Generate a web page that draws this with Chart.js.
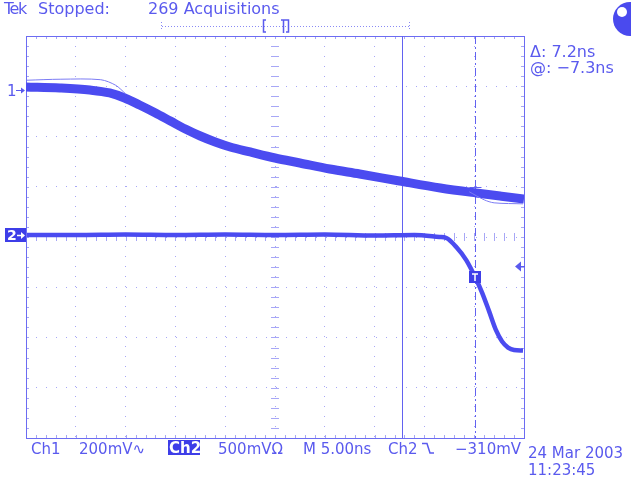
<!DOCTYPE html>
<html>
<head>
<meta charset="utf-8">
<script src="https://cdn.jsdelivr.net/npm/chart.js@4/dist/chart.umd.min.js"></script>
<style>
html, body { margin: 0; padding: 0; background: #fff; }
#wrap { width: 631px; height: 477px; }
</style>
</head>
<body>
<div id="wrap"><canvas id="scope"></canvas></div>
<script>
// time axis in ns (5 ns/div, 10 div), vertical in divisions (8 div)
const ch1Time  = [-25.0, -21.6, -18.6, -16.6, -15.1, -13.6, -12.0, -10.5, -9.0, -7.5, -6.0, -4.5, -2.5, 0.0, 2.5, 5.5, 8.5, 12.5, 16.6, 20.2, 22.6, 25.0];
const ch1Level = [2.985, 2.965, 2.925, 2.866, 2.766, 2.627, 2.468, 2.308, 2.149, 2.010, 1.891, 1.791, 1.692, 1.572, 1.473, 1.353, 1.254, 1.114, 0.975, 0.876, 0.816, 0.756];

// single stray acquisitions of ch1 that sit outside the main band
const ghostTime  = [-24.9, -21.5, -17.5, -16.0, -15.0, null, 19.5, 21.0, 22.0, 24.9];
const ghostLevel = [3.12, 3.14, 3.13, 3.02, 2.85, null, 0.90, 0.74, 0.68, 0.66];

const ch2Time  = [-24.9, -20, -15, -10, -5, 0, 5, 10, 14, 16.5, 17.2, 18.2, 19.2, 20.1, 20.8, 21.5, 22.2, 22.8, 23.4, 24.0, 24.9];
const ch2Level = [0.04, 0.04, 0.05, 0.04, 0.05, 0.04, 0.05, 0.03, 0.04, 0.00, -0.02, -0.20, -0.46, -0.80, -1.11, -1.48, -1.86, -2.08, -2.20, -2.25, -2.26];

const ch1Marker = 2.93;
const ch2Marker = 0.04;
const trigLevel = -0.58;
const cursorA = 12.8;
const cursorB = 20.1;
const cursorCrossLevel = 1.0;
const trigPoint = { x: 20.1, y: -0.80 };

const headerTexts = ['Stopped:', '269 Acquisitions'];
const cursorTexts = ['\u0394: 7.2ns', '@: \u22127.3ns'];
const footTexts = ['Ch1', '200mV\u223F', 'Ch2', '500mV\u03A9', 'M 5.00ns', 'Ch2', '\u2212310mV'];
const dateTexts = ['24 Mar 2003', '11:23:45'];

const ink = '#5a5aee';
const trace = '#4b4bf0';
const grid = '#a7a7f6';

function pts(xs, ys) {
  return xs.map((x, i) => (x === null ? { x: NaN, y: null } : { x: x, y: ys[i] }));
}

const scopeDecor = {
  id: 'scopeDecor',
  beforeDatasetsDraw(chart) {
    const ctx = chart.ctx;
    const a = chart.chartArea;
    const sx = chart.scales.x, sy = chart.scales.y;
    const cx = sx.getPixelForValue(0), cy = sy.getPixelForValue(0);
    ctx.save();
    ctx.strokeStyle = grid;
    ctx.lineWidth = 1;
    // minor ticks on the centre cross and the frame
    ctx.beginPath();
    for (let v = -4; v <= 4.001; v += 0.2) {
      const y = Math.round(sy.getPixelForValue(v)) + 0.5;
      ctx.moveTo(cx - 4, y); ctx.lineTo(cx + 4, y);
      ctx.moveTo(a.left, y); ctx.lineTo(a.left + 3, y);
      ctx.moveTo(a.right - 3, y); ctx.lineTo(a.right, y);
    }
    for (let t = -25; t <= 25.001; t += 1) {
      const x = Math.round(sx.getPixelForValue(t)) + 0.5;
      ctx.moveTo(x, cy - 4); ctx.lineTo(x, cy + 4);
      ctx.moveTo(x, a.top); ctx.lineTo(x, a.top + 3);
      ctx.moveTo(x, a.bottom - 3); ctx.lineTo(x, a.bottom);
    }
    ctx.stroke();
    // frame
    ctx.strokeStyle = '#6c6cf2';
    ctx.strokeRect(Math.round(a.left) + 0.5, Math.round(a.top) + 0.5, Math.round(a.right - a.left), Math.round(a.bottom - a.top));
    // cursors
    const xa = Math.round(sx.getPixelForValue(cursorA)) + 0.5;
    ctx.strokeStyle = '#6262f0';
    ctx.beginPath(); ctx.moveTo(xa, a.top); ctx.lineTo(xa, a.bottom); ctx.stroke();
    const xb = Math.round(sx.getPixelForValue(cursorB)) + 0.5;
    ctx.setLineDash([8, 3, 2, 3]);
    ctx.beginPath(); ctx.moveTo(xb, a.top); ctx.lineTo(xb, a.bottom); ctx.stroke();
    ctx.setLineDash([]);
    const yc = Math.round(sy.getPixelForValue(cursorCrossLevel)) + 0.5;
    ctx.beginPath();
    ctx.moveTo(xb - 6, yc); ctx.lineTo(xb + 6, yc);
    ctx.moveTo(xb, yc - 6); ctx.lineTo(xb, yc + 6);
    ctx.stroke();
    ctx.restore();
  },
  afterDraw(chart) {
    const ctx = chart.ctx;
    const a = chart.chartArea;
    const sx = chart.scales.x, sy = chart.scales.y;
    ctx.save();
    ctx.fillStyle = ink;
    ctx.strokeStyle = ink;
    ctx.textBaseline = 'alphabetic';
    // header
    ctx.save();
    ctx.font = '16px "DejaVu Sans"';
    ctx.letterSpacing = '-1.5px';
    ctx.fillText('Tek', 4, 14);
    ctx.restore();
    ctx.font = '16px "DejaVu Sans"';
    ctx.fillText(headerTexts[0], 38, 14);
    ctx.fillText(headerTexts[1], 148, 14);
    // record bar
    ctx.lineWidth = 1;
    ctx.setLineDash([1, 2]);
    ctx.strokeStyle = '#8a8af4';
    ctx.beginPath(); ctx.moveTo(162, 26.5); ctx.lineTo(409, 26.5); ctx.stroke();
    ctx.beginPath(); ctx.moveTo(161.5, 22); ctx.lineTo(161.5, 31); ctx.moveTo(409.5, 22); ctx.lineTo(409.5, 31); ctx.stroke();
    ctx.setLineDash([]);
    ctx.strokeStyle = ink;
    ctx.lineWidth = 1.5;
    ctx.beginPath();
    ctx.moveTo(266, 20); ctx.lineTo(263.5, 20); ctx.lineTo(263.5, 32); ctx.lineTo(266, 32);
    ctx.moveTo(286, 20); ctx.lineTo(288.5, 20); ctx.lineTo(288.5, 32); ctx.lineTo(286, 32);
    ctx.moveTo(281, 20); ctx.lineTo(286, 20); ctx.moveTo(283.5, 20); ctx.lineTo(283.5, 33);
    ctx.stroke();
    // top right disc
    ctx.fillStyle = '#4a4aee';
    ctx.beginPath(); ctx.arc(630, 19, 17, 0, Math.PI * 2); ctx.fill();
    ctx.fillStyle = '#fff';
    ctx.beginPath(); ctx.arc(622, 12, 5, 0, Math.PI * 2); ctx.fill();
    ctx.fillStyle = ink;
    // cursor readout
    ctx.fillText(cursorTexts[0], 530, 57);
    ctx.fillText(cursorTexts[1], 530, 73);
    ctx.font = '15px "DejaVu Sans"';
    // ch1 ground marker
    const y1 = Math.round(sy.getPixelForValue(ch1Marker)) + 0.5;
    ctx.fillText('1', 7, y1 + 5);
    ctx.lineWidth = 1;
    ctx.beginPath(); ctx.moveTo(16, y1); ctx.lineTo(24, y1); ctx.stroke();
    ctx.beginPath(); ctx.moveTo(25, y1); ctx.lineTo(21, y1 - 3); ctx.lineTo(21, y1 + 3); ctx.closePath(); ctx.fill();
    // ch2 ground marker
    const y2 = Math.round(sy.getPixelForValue(ch2Marker));
    ctx.fillStyle = '#3e3ee8';
    ctx.fillRect(5, y2 - 7, 21, 14);
    ctx.fillStyle = '#fff';
    ctx.strokeStyle = '#fff';
    ctx.font = 'bold 14px "DejaVu Sans"';
    ctx.fillText('2', 7, y2 + 5);
    ctx.lineWidth = 1.5;
    ctx.beginPath(); ctx.moveTo(17, y2 + 0.5); ctx.lineTo(22, y2 + 0.5); ctx.stroke();
    ctx.beginPath(); ctx.moveTo(25, y2 + 0.5); ctx.lineTo(21, y2 - 3); ctx.lineTo(21, y2 + 4); ctx.closePath(); ctx.fill();
    // trigger level arrow
    const yt = Math.round(sy.getPixelForValue(trigLevel)) + 0.5;
    ctx.fillStyle = ink;
    ctx.strokeStyle = ink;
    ctx.lineWidth = 1;
    ctx.beginPath(); ctx.moveTo(a.right - 9, yt); ctx.lineTo(a.right - 3, yt - 5); ctx.lineTo(a.right - 3, yt + 5); ctx.closePath(); ctx.fill();
    ctx.beginPath(); ctx.moveTo(a.right - 4, yt); ctx.lineTo(a.right + 1, yt); ctx.stroke();
    // trigger point marker
    const tx = Math.round(sx.getPixelForValue(trigPoint.x));
    const ty = Math.round(sy.getPixelForValue(trigPoint.y));
    ctx.fillStyle = '#3e3ee8';
    ctx.fillRect(tx - 6, ty - 6, 12, 12);
    ctx.strokeStyle = '#fff';
    ctx.lineWidth = 1.5;
    ctx.beginPath(); ctx.moveTo(tx - 3, ty - 3); ctx.lineTo(tx + 3, ty - 3); ctx.moveTo(tx, ty - 3); ctx.lineTo(tx, ty + 4); ctx.stroke();
    // footer
    ctx.fillStyle = ink;
    ctx.font = '15px "DejaVu Sans"';
    ctx.fillText(footTexts[0], 31, 454);
    ctx.fillText(footTexts[1], 79, 454);
    ctx.fillStyle = '#3e3ee8';
    ctx.fillRect(168, 440, 32, 15);
    ctx.fillStyle = '#fff';
    ctx.font = 'bold 15px "DejaVu Sans"';
    ctx.fillText(footTexts[2], 169, 453);
    ctx.fillStyle = ink;
    ctx.font = '15px "DejaVu Sans"';
    ctx.fillText(footTexts[3], 218, 454);
    ctx.fillText(footTexts[4], 303, 454);
    ctx.fillText(footTexts[5], 388, 454);
    // falling-edge glyph
    ctx.strokeStyle = ink;
    ctx.lineWidth = 1.5;
    ctx.beginPath(); ctx.moveTo(422, 443.5); ctx.lineTo(427, 443.5); ctx.lineTo(430, 453); ctx.lineTo(434, 453); ctx.stroke();
    ctx.fillText(footTexts[6], 455, 454);
    ctx.fillText(dateTexts[0], 528, 458);
    ctx.fillText(dateTexts[1], 528, 475);
    ctx.restore();
  }
};

new Chart(document.getElementById('scope').getContext('2d'), {
  type: 'line',
  data: {
    datasets: [
      {
        label: 'Ch1 stray',
        data: pts(ghostTime, ghostLevel),
        borderColor: '#7b7bf4',
        borderWidth: 1,
        pointRadius: 0,
        tension: 0.3,
        spanGaps: false
      },
      {
        label: 'Ch1',
        data: pts(ch1Time, ch1Level),
        borderColor: trace,
        borderWidth: 9,
        pointRadius: 0,
        cubicInterpolationMode: 'monotone'
      },
      {
        label: 'Ch2',
        data: pts(ch2Time, ch2Level),
        borderColor: trace,
        borderWidth: 4.5,
        pointRadius: 0,
        cubicInterpolationMode: 'monotone'
      }
    ]
  },
  options: {
    responsive: true,
    maintainAspectRatio: false,
    animation: false,
    layout: { padding: { left: 26, top: 36, right: 107, bottom: 39 } },
    plugins: { legend: { display: false }, tooltip: { enabled: false } },
    scales: {
      x: {
        type: 'linear',
        min: -25,
        max: 25,
        ticks: { display: false, stepSize: 5 },
        grid: { color: grid, drawTicks: false },
        border: { display: false, dash: [1, 9] },
        afterFit(s) { s.height = 0; }
      },
      y: {
        min: -4,
        max: 4,
        ticks: { display: false, stepSize: 1 },
        grid: { color: grid, drawTicks: false },
        border: { display: false, dash: [1, 9] },
        afterFit(s) { s.width = 0; }
      }
    }
  },
  plugins: [scopeDecor]
});
</script>
</body>
</html>
